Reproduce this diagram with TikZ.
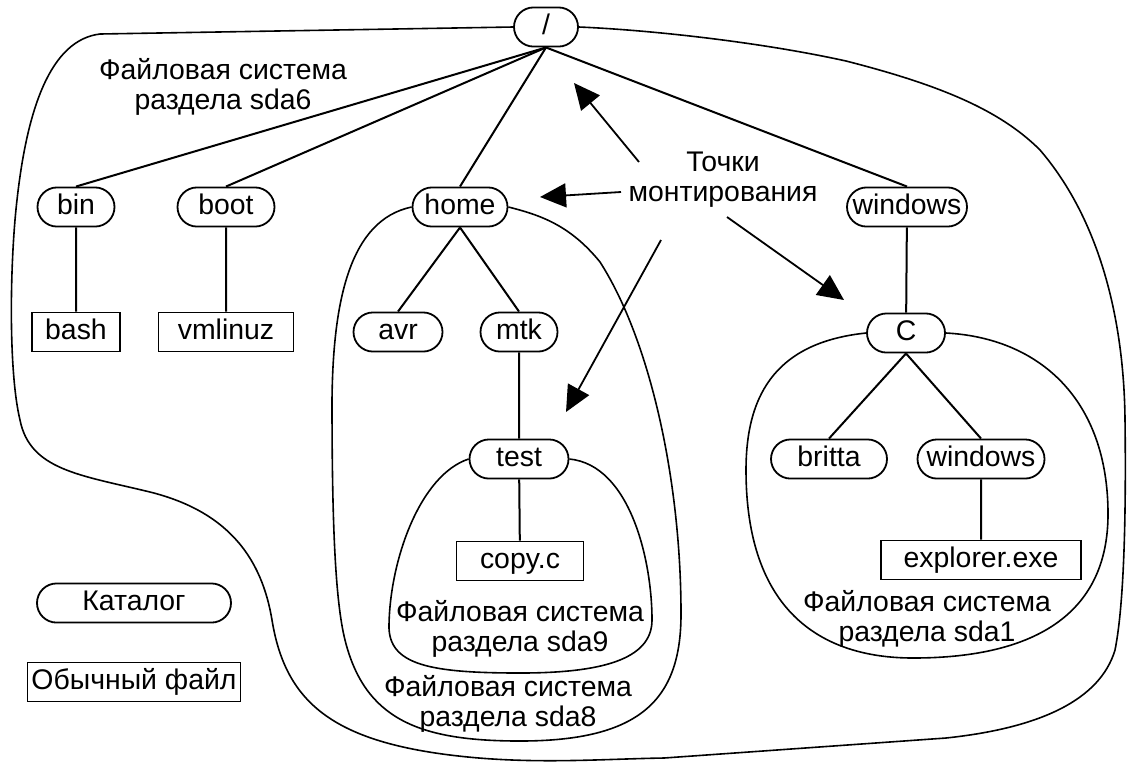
\documentclass[tikz,border=0pt]{standalone}
\usepackage{fontspec}
\setmainfont{Liberation Sans}
\usetikzlibrary{shapes.misc,arrows.meta}
\tikzset{
  dirbox/.style={draw, rounded rectangle, line width=0.9pt, minimum height=19.5pt, text height=10pt, text depth=2.9pt, inner xsep=2pt},
  filebox/.style={draw, rectangle, line width=0.9pt, minimum height=19pt, text height=10pt, text depth=2.9pt, inner xsep=2pt},
  treeline/.style={line width=1pt},
  fsline/.style={line width=0.8pt},
  mntarrow/.style={line width=0.9pt, -{Triangle[length=13pt,width=12pt]}},
  fslabel/.style={align=center}
}
\begin{document}
\begin{tikzpicture}[x=0.5pt,y=0.5pt,yscale=-1,xscale=1,font=\fontsize{14.2}{15}\selectfont]
\useasboundingbox (0,0) rectangle (1127,762);

%Catalogs and files
\node [dirbox, minimum width=36pt] (root) at (546,27) {/};
\node [dirbox, minimum width=42.5pt] (bin) at (76,207) {bin};
\node [dirbox, minimum width=52.5pt] (boot) at (226,207) {boot};
\node [dirbox, minimum width=51.5pt] (home) at (460,207) {home};
\node [dirbox, minimum width=64pt] (win) at (907,207) {windows};
\node [filebox, minimum width=44pt] (bash) at (76,332) {bash};
\node [filebox, minimum width=67.5pt] (vmlinuz) at (226,332) {vmlinuz};
\node [dirbox, minimum width=48.5pt] (avr) at (398,332) {avr};
\node [dirbox, minimum width=42.5pt] (mtk) at (519,332) {mtk};
\node [dirbox, minimum width=53.5pt] (test) at (519,459) {test};
\node [filebox, minimum width=63.5pt] (copyc) at (520,561) {copy.c};
\node [dirbox, minimum width=43pt] (drvc) at (906,333) {C};
\node [dirbox, minimum width=62pt] (britta) at (829,459) {britta};
\node [dirbox, minimum width=67.5pt] (win2) at (981,459) {windows};
\node [filebox, minimum width=100pt] (explorer) at (981,560) {explorer.exe};

%Legend
\node [dirbox, minimum width=101pt] (katalog) at (134,603) {Каталог};
\node [filebox, minimum width=104.5pt] (obfile) at (134,682) {Обычный файл};

%Tree lines
\draw [treeline] (root.south) -- (bin.north);
\draw [treeline] (root.south) -- (boot.north);
\draw [treeline] (root.south) -- (home.north);
\draw [treeline] (root.south) -- (win.north);
\draw [treeline] (bin) -- (bash);
\draw [treeline] (boot) -- (vmlinuz);
\draw [treeline] (home.south) -- (avr.north);
\draw [treeline] (home.south) -- (mtk.north);
\draw [treeline] (mtk) -- (test);
\draw [treeline] (test) -- (copyc);
\draw [treeline] (win) -- (drvc);
\draw [treeline] (drvc.south) -- (britta.north);
\draw [treeline] (drvc.south) -- (win2.north);
\draw [treeline] (win2) -- (explorer);

%File system sda6
\draw [fsline] (root.west) -- (100,34)
  .. controls (50,40) and (27,110) .. (17,200)
  .. controls (10,260) and (8,370) .. (20,420)
  .. controls (30,470) and (80,475) .. (150,492)
  .. controls (230,512) and (262,560) .. (272,620)
  .. controls (285,700) and (330,740) .. (450,755)
  .. controls (530,765) and (600,759) .. (664,758)
  -- (946,738)
  .. controls (1040,728) and (1100,700) .. (1115,650)
  .. controls (1125,600) and (1126,500) .. (1125,420)
  .. controls (1124,320) and (1100,220) .. (1040,150)
  .. controls (1000,110) and (940,85) .. (846,61)
  .. controls (760,42) and (650,30) .. (root.east);
%File system sda8
\draw [fsline] (home.west)
  .. controls (350,220) and (333,300) .. (332,400)
  .. controls (332,520) and (335,600) .. (345,640)
  .. controls (365,720) and (420,741) .. (520,741)
  .. controls (640,741) and (681,700) .. (681,614)
  .. controls (681,480) and (650,340) .. (600,262)
  .. controls (570,225) and (540,215) .. (home.east);
%File system sda9
\draw [fsline] (test.west)
  .. controls (420,475) and (390,560) .. (389,625)
  .. controls (388,665) and (430,673) .. (520,673)
  .. controls (600,673) and (652,660) .. (652,620)
  .. controls (652,560) and (630,465) .. (test.east);
%File system sda1
\draw [fsline] (drvc.west)
  .. controls (780,342) and (746,390) .. (746,470)
  .. controls (746,610) and (820,658) .. (913,658)
  .. controls (1040,658) and (1108,610) .. (1108,514)
  .. controls (1108,400) and (1040,338) .. (drvc.east);

%Labels
\node [fslabel] (sdasix) at (223,87) {Файловая система\\раздела sda6};
\node [fslabel] (sdanine) at (520,629) {Файловая система\\раздела sda9};
\node [fslabel] (sdaeight) at (508,704) {Файловая система\\раздела sda8};
\node [fslabel] (sdaone) at (927,619) {Файловая система\\раздела sda1};
\node [fslabel] (mount) at (723,180) {Точки\\монтирования};

%Mount point arrows
\coordinate (mfroma) at (639,162);
\coordinate (mtoa) at (574,83);
\coordinate (mfromb) at (621,192);
\coordinate (mtob) at (540,197);
\coordinate (mfromc) at (727,217);
\coordinate (mtoc) at (844,300);
\coordinate (mfromd) at (661,240);
\coordinate (mtod) at (566,412);
\draw [mntarrow] (mfroma) -- (mtoa);
\draw [mntarrow] (mfromb) -- (mtob);
\draw [mntarrow] (mfromc) -- (mtoc);
\draw [mntarrow] (mfromd) -- (mtod);
\end{tikzpicture}
\end{document}
